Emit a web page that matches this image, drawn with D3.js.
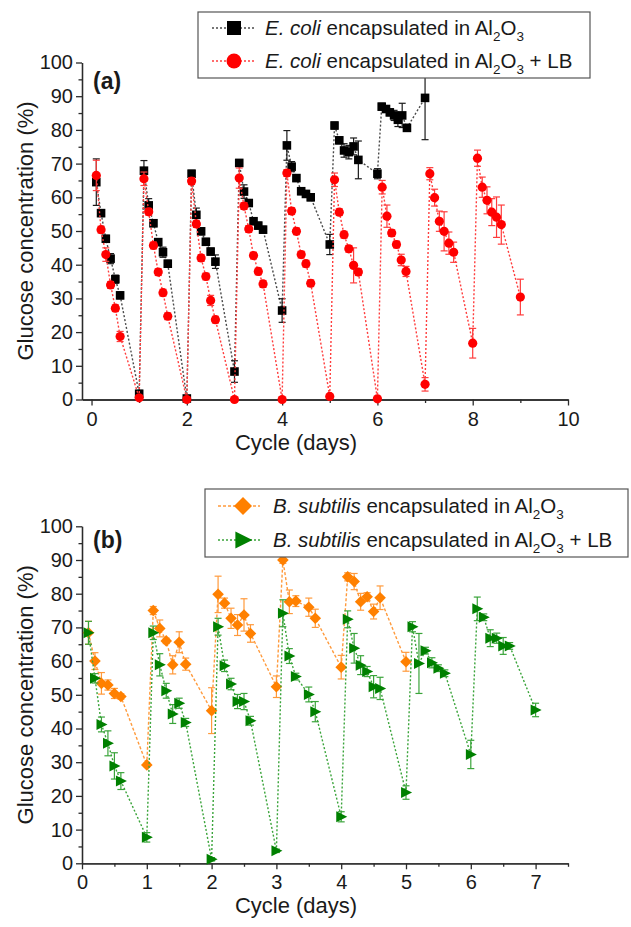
<!DOCTYPE html>
<html>
<head>
<meta charset="utf-8">
<script src="https://d3js.org/d3.v7.min.js"></script>
<style>
	body { margin:0; background:#fff; }
	svg text { font-family: "Liberation Sans", Arial, sans-serif; fill:#1a1a1a; white-space: pre; }
	.axis path, .axis line { stroke:#2b2b2b; stroke-width:1.3; }
	.axis text { font-size:20px; fill:#1a1a1a; }
</style>
</head>
<body>
<svg id="chart" width="631" height="927"></svg>
<script>

// ---- panel (a): E. coli ----
var ecoliDays = [0.1,0.2,0.3,0.4,0.5,0.6,1.0, 1.1,1.2,1.3,1.4,1.5,1.6,2.0, 2.1,2.2,2.3,2.4,2.5,2.6,3.0,
	3.1,3.2,3.3,3.4,3.5,3.6,4.0, 4.1,4.2,4.3,4.4,4.5,4.6,5.0, 5.1,5.2,5.3,5.4,5.5,5.6,6.0,
	6.09,6.18,6.26,6.35,6.43,6.52,6.62,7.0];
var ecoliAl = [64.5,55.3,47.7,41.8,35.7,30.9,1.7, 67.9,57.6,52.3,46.7,43.7,40.3,0.3, 67.0,54.8,49.9,46.8,43.9,40.9,8.3,
	70.2,61.7,58.3,52.9,51.6,50.4,26.4, 75.4,69.1,65.7,61.8,61.0,60.0,46.0, 81.3,76.9,73.9,73.4,75.1,71.1,67.0,
	86.9,86.2,85.2,84.3,83.0,84.3,80.6,89.5];
var ecoliAlErr = [6.9,1.0,1.0,1.5,1.2,1.0,1.0, 3.0,2.0,1.0,1.0,1.5,1.0,0.5, 1.0,2.0,1.0,1.0,1.0,2.0,3.2,
	1.0,2.0,1.0,1.0,1.0,1.0,3.5, 4.4,1.5,1.0,1.0,1.0,1.0,3.0, 1.0,1.0,2.0,2.0,2.5,5.6,1.5,
	1.0,1.0,1.0,1.5,2.0,3.6,1.0,12.4];

var ecoliLbDays = [0.1,0.2,0.3,0.4,0.5,0.6,1.0, 1.1,1.2,1.3,1.4,1.5,1.6,2.0, 2.1,2.2,2.3,2.4,2.5,2.6,3.0,
	3.1,3.2,3.3,3.4,3.5,3.6,4.0, 4.1,4.2,4.3,4.4,4.5,4.6,5.0, 5.1,5.2,5.3,5.4,5.5,5.6,6.0,
	6.1,6.2,6.3,6.4,6.5,6.6,7.0, 7.1,7.2,7.3,7.4,7.5,7.6,8.0, 8.1,8.2,8.3,8.4,8.5,8.6,9.0];
var ecoliLb = [66.5,50.4,43.0,34.0,27.1,18.7,0.5, 65.5,55.7,45.7,37.8,31.7,24.7,0.0, 64.8,52.1,42.0,36.5,29.4,23.7,0.0,
	65.7,57.4,50.6,42.7,38.0,34.3,0.0, 67.2,55.9,49.9,43.0,40.3,34.5,0.9, 65.2,55.6,48.9,44.7,39.8,37.8,0.2,
	63.0,54.4,49.4,46.0,41.4,38.0,4.5, 67.0,59.9,52.9,49.9,46.4,43.7,16.7, 71.6,63.0,59.1,55.6,54.1,51.9,30.4];
var ecoliLbErr = [4.5,1,2,1,1,1.5,0.5, 2,1,1,1,1,1,0.3, 1,1,1,1,1.5,1,0.3,
	3,1,1,1,1,1,0.3, 1,1,1,1,1,1,0.5, 2,1,1,1,5.2,1,0.3,
	2,3.3,1,1,1.7,1.5,2, 1.8,2.5,3,5.8,3.3,3,4.4, 2.4,3,4,4,6,5.8,5.3];

// ---- panel (b): B. subtilis ----
var bsubDays = [0.1,0.2,0.3,0.4,0.5,0.6,1.0, 1.1,1.2,1.3,1.4,1.5,1.6,2.0, 2.1,2.2,2.3,2.4,2.5,2.6,3.0,
	3.1,3.2,3.3,3.5,3.6,4.0, 4.1,4.2,4.3,4.4,4.5,4.6,5.0];
var bsubAl = [68.4,60.0,53.4,52.9,50.4,49.5,29.2, 75.0,69.7,66.0,58.9,65.6,59.1,45.3, 79.8,77.2,72.7,70.7,73.7,68.2,52.4,
	90.0,77.6,77.8,76.0,72.7,58.2, 85.0,83.6,77.6,79.1,74.7,78.8,59.8];
var bsubAlErr = [3.4,2.5,3.2,1.5,1.5,0.8,0.5, 1.2,2.5,0.8,2.7,3.1,1.8,6.8, 5.4,1.5,3.0,3.1,4.8,2.6,3.2,
	1.0,3.5,1.6,2.7,2.7,3.5, 1.2,2.4,2.5,1.2,2.2,3.5,2.8];

var bsubLbDays = [0.1,0.2,0.3,0.4,0.5,0.6,1.0, 1.1,1.2,1.3,1.4,1.5,1.6,2.0, 2.1,2.2,2.3,2.4,2.5,2.6,3.0,
	3.1,3.2,3.3,3.5,3.6,4.0, 4.1,4.2,4.3,4.4,4.5,4.6,5.0, 5.1,5.2,5.3,5.4,5.5,5.6,6.0, 6.1,6.2,6.3,6.4,6.5,6.6,7.0];
var bsubLb = [68.4,54.9,41.2,35.6,28.9,24.4,7.7, 68.4,58.9,51.2,44.3,47.5,41.8,1.2, 70.2,58.6,53.2,48.0,48.0,42.3,3.7,
	74.2,61.5,55.4,50.1,45.0,13.8, 72.4,63.8,58.8,56.9,52.4,51.9,21.0, 70.2,59.3,63.1,59.5,57.9,56.4,32.3,
	75.5,73.0,66.8,66.8,64.5,64.5,45.5];
var bsubLbErr = [3.4,1.4,2.2,3.7,3.9,2.5,1.4, 2.0,3.3,2.2,2.8,1.5,1.2,0.5, 2.5,1.7,1.7,2.1,2.4,1.3,0.5,
	4.0,2.2,1.0,2.2,3.0,1.5, 2.5,4.4,2.8,1.5,3.3,3.3,2.0, 1.5,8.9,1.0,1.5,1.0,1.0,4.2,
	3.5,1.0,2.5,1.5,2.5,1.0,2.0];

// ticks
var yTicks = [0,10,20,30,40,50,60,70,80,90,100];
var yMinor = [5,15,25,35,45,55,65,75,85,95];
var xTicksA = [0,2,4,6,8,10];
var xMinorA = [1,3,5,7,9];
var xTicksB = [0,1,2,3,4,5,6,7];
var xMinorB = [0.5,1.5,2.5,3.5,4.5,5.5,6.5,7.5];

// marker shapes, centred on 0,0
var shapes = {
	square: function(s){ return "M"+(-s)+","+(-s)+"H"+s+"V"+s+"H"+(-s)+"Z"; },
	circle: function(s){ return "M"+(-s)+",0A"+s+","+s+" 0 1,0 "+s+",0A"+s+","+s+" 0 1,0 "+(-s)+",0Z"; },
	diamond: function(s){ return "M0,"+(-s)+"L"+s+",0L0,"+s+"L"+(-s)+",0Z"; },
	triangle: function(s){ return "M"+(-s*0.9)+","+(-s)+"L"+(s*1.1)+",0L"+(-s*0.9)+","+s+"Z"; }
};

var svg = d3.select("#chart");

function drawSeries(g, x, y, days, vals, errs, st) {
	var pts = days.map(function(d,i){ return {d:d, v:vals[i], e:errs[i]}; });
	var line = d3.line().x(function(p){ return x(p.d); }).y(function(p){ return y(p.v); });

	g.append("path").datum(pts)
		.attr("d", line)
		.attr("fill","none")
		.attr("stroke", st.lineColor)
		.attr("stroke-width", 1.4)
		.attr("stroke-dasharray", st.dash);

	var eb = g.append("g").attr("stroke", st.errColor).attr("stroke-width", 1.2);
	pts.forEach(function(p){
		var cx = x(p.d), y1 = y(p.v + p.e), y2 = y(p.v - p.e);
		eb.append("line").attr("x1",cx).attr("x2",cx).attr("y1",y1).attr("y2",y2);
		eb.append("line").attr("x1",cx-3.5).attr("x2",cx+3.5).attr("y1",y1).attr("y2",y1);
		eb.append("line").attr("x1",cx-3.5).attr("x2",cx+3.5).attr("y1",y2).attr("y2",y2);
	});

	g.selectAll(null).data(pts).enter().append("path")
		.attr("d", shapes[st.shape](st.size))
		.attr("transform", function(p){ return "translate("+x(p.d)+","+y(p.v)+")"; })
		.attr("fill", st.color);
}

function drawAxes(g, x, y, xt, xm, y0) {
	g.append("g").attr("class","axis")
		.attr("transform","translate(0,"+y0+")")
		.call(d3.axisBottom(x).tickValues(xm).tickFormat("").tickSize(3.5).tickSizeOuter(0));
	g.append("g").attr("class","axis")
		.attr("transform","translate(0,"+y0+")")
		.call(d3.axisBottom(x).tickValues(xt).tickFormat(d3.format("d")).tickSize(6).tickPadding(6).tickSizeOuter(0));
	g.append("g").attr("class","axis")
		.attr("transform","translate("+x.range()[0]+",0)")
		.call(d3.axisLeft(y).tickValues(yMinor).tickFormat("").tickSize(3.5).tickSizeOuter(0));
	g.append("g").attr("class","axis")
		.attr("transform","translate("+x.range()[0]+",0)")
		.call(d3.axisLeft(y).tickValues(yTicks).tickFormat(d3.format("d")).tickSize(6).tickPadding(3).tickSizeOuter(0));
}

function titles(g, y, y0, label, lx, ly) {
	g.append("text")
		.attr("transform","translate(33,"+((y(0)+y(100))/2)+") rotate(-90)")
		.attr("text-anchor","middle")
		.style("font-size","22px")
		.text("Glucose concentration (%)");
	g.append("text")
		.attr("x", 296).attr("y", y0 + 50)
		.attr("text-anchor","middle")
		.style("font-size","22px")
		.text("Cycle (days)");
	g.append("text")
		.attr("x", lx).attr("y", ly)
		.style("font-size","23px").style("font-weight","bold")
		.text(label);
}

function legend(g, box, rows) {
	g.append("rect")
		.attr("x", box.x).attr("y", box.y).attr("width", box.w).attr("height", box.h)
		.attr("fill","#fff").attr("stroke","#555").attr("stroke-width",1.2);
	rows.forEach(function(r){
		g.append("line")
			.attr("x1", box.lx1).attr("x2", box.lx2).attr("y1", r.y).attr("y2", r.y)
			.attr("stroke", r.st.lineColor).attr("stroke-width",1.4).attr("stroke-dasharray", r.st.dash);
		g.append("path")
			.attr("d", shapes[r.st.shape](r.st.legSize))
			.attr("transform","translate("+box.mx+","+r.y+")")
			.attr("fill", r.st.color);
		var t = g.append("text").attr("x", box.tx).attr("y", r.y + 7).style("font-size","20.5px");
		t.append("tspan").style("font-style","italic").text(r.name);
		t.append("tspan").text(" encapsulated in Al");
		t.append("tspan").attr("dy",6).style("font-size","13.5px").text("2");
		t.append("tspan").attr("dy",-6).text("O");
		t.append("tspan").attr("dy",6).style("font-size","13.5px").text("3");
		if (r.lb) t.append("tspan").attr("dy",-6).text(" + LB");
	});
}

// styles
var stBlack = {color:"#000", lineColor:"#4a4a4a", errColor:"#1a1a1a", dash:"2,2", shape:"square", size:4.3, legSize:7};
var stRed = {color:"#ff0000", lineColor:"#ff3c3c", errColor:"#ff3c3c", dash:"2,2", shape:"circle", size:4.6, legSize:7.5};
var stOrange = {color:"#ff8000", lineColor:"#ff9a3c", errColor:"#ff9a3c", dash:"3,2", shape:"diamond", size:5.8, legSize:9};
var stGreen = {color:"#008000", lineColor:"#3aa43a", errColor:"#3aa43a", dash:"2,2", shape:"triangle", size:5.5, legSize:8.5};

// panel (a)
var gA = svg.append("g");
var xA = d3.scaleLinear().domain([-0.2, 10]).range([82, 568]);
var yA = d3.scaleLinear().domain([0, 100]).range([399.5, 62.5]);
drawAxes(gA, xA, yA, xTicksA, xMinorA, 399.5);
drawSeries(gA, xA, yA, ecoliDays, ecoliAl, ecoliAlErr, stBlack);
drawSeries(gA, xA, yA, ecoliLbDays, ecoliLb, ecoliLbErr, stRed);
titles(gA, yA, 399.5, "(a)", 93, 89);
legend(gA, {x:198, y:12, w:392, h:66, lx1:212, lx2:256, mx:234, tx:265},
	[{y:28, st:stBlack, name:"E. coli", lb:false}, {y:61, st:stRed, name:"E. coli", lb:true}]);

// panel (b)
var gB = svg.append("g");
var xB = d3.scaleLinear().domain([0, 7.5]).range([82, 568]);
var yB = d3.scaleLinear().domain([0, 100]).range([863.3, 526.3]);
drawAxes(gB, xB, yB, xTicksB, xMinorB, 863.3);
drawSeries(gB, xB, yB, bsubDays, bsubAl, bsubAlErr, stOrange);
drawSeries(gB, xB, yB, bsubLbDays, bsubLb, bsubLbErr, stGreen);
titles(gB, yB, 863.3, "(b)", 93, 548);
legend(gB, {x:205, y:489, w:423, h:68, lx1:218, lx2:260, mx:243, tx:273},
	[{y:506, st:stOrange, name:"B. subtilis", lb:false}, {y:540, st:stGreen, name:"B. subtilis", lb:true}]);

</script>
</body>
</html>
